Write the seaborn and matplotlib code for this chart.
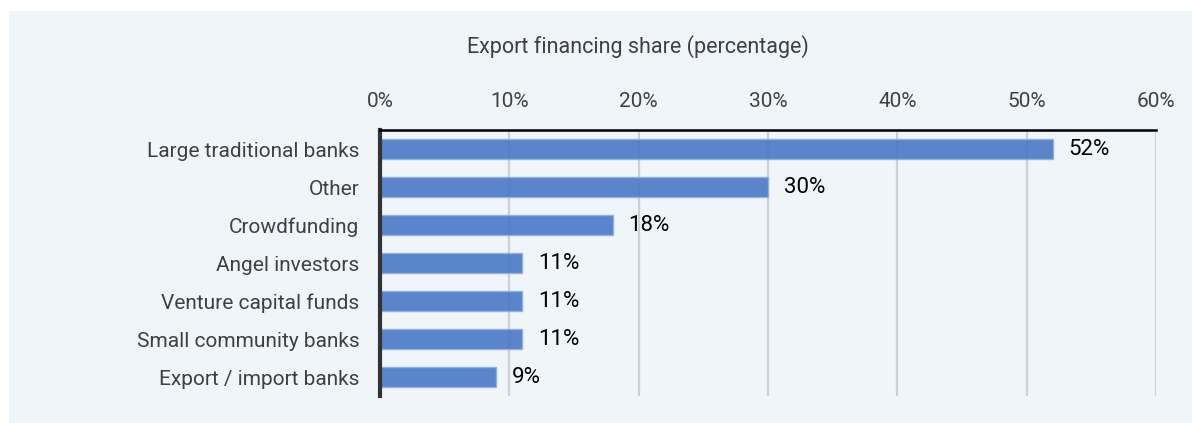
import matplotlib
matplotlib.use("Agg")
import matplotlib.pyplot as plt
import pandas as pd
import seaborn as sns
from matplotlib.patches import Rectangle
from matplotlib.ticker import FuncFormatter

categories = [
    "Large traditional banks",
    "Other",
    "Crowdfunding",
    "Angel investors",
    "Venture capital funds",
    "Small community banks",
    "Export / import banks",
]
shares = [52, 30, 18, 11, 11, 11, 9]
x_ticks = [0, 10, 20, 30, 40, 50, 60]

df = pd.DataFrame({"source": categories, "share": shares})

sns.set_theme(style="white")
plt.rcParams["font.family"] = ["Roboto", "DejaVu Sans"]

W, H = 1192, 423
fig = plt.figure(figsize=(W / 100, H / 100), dpi=100, facecolor="white")
# light panel behind everything
fig.patches.append(Rectangle((9 / W, 0), 1, (H - 11) / H, transform=fig.transFigure,
                             facecolor="#F0F5FA", edgecolor="none", zorder=-5))

ax = fig.add_axes([380 / W, 1 - 396 / H, (1156 - 380) / W, (396 - 130) / H])
ax.set_facecolor("none")

sns.barplot(data=df, y="source", x="share", orient="h", color="#4A78C6",
            width=0.55, edgecolor="#8FAEE0", linewidth=1, alpha=0.9,
            saturation=1, ax=ax, zorder=2)

ax.set_xlim(0, 60)
ax.set_ylim(6.5, -0.5)
ax.set_xticks(x_ticks)
ax.xaxis.set_major_formatter(FuncFormatter(lambda v, _: f"{v:.0f}%"))
ax.xaxis.tick_top()
ax.tick_params(axis="x", length=0, pad=14, labelsize=15, labelcolor="#404040")
ax.tick_params(axis="y", length=0, pad=15, labelsize=15, labelcolor="#404040")
ax.set_xlabel("")
ax.set_ylabel("")

for v in x_ticks[1:]:
    ax.axvline(v, color="#CDD0D5", lw=1.6, zorder=1)

for sp in ["right", "bottom"]:
    ax.spines[sp].set_visible(False)
ax.spines["top"].set_color("black")
ax.spines["top"].set_linewidth(1.8)
ax.spines["left"].set_color("#333333")
ax.spines["left"].set_linewidth(3)

for i, v in enumerate(shares):
    ax.text(v + 1.2, i, f"{v}%", va="center", ha="left", fontsize=16,
            color="black")

fig.text(638 / W, 1 - 47 / H, "Export financing share (percentage)",
         ha="center", va="center", fontsize=15.5, color="#404040")

fig.savefig("out.png", dpi=100, facecolor="white")
